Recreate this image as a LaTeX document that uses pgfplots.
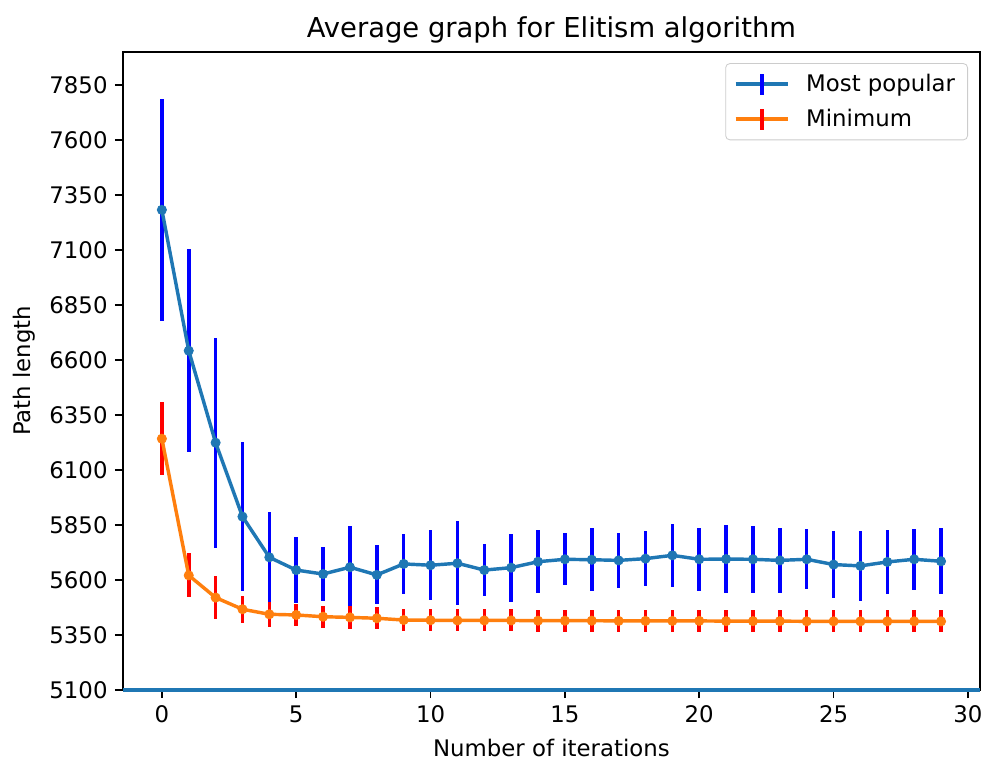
\documentclass[border=0pt]{standalone}
\usepackage{fontspec}
\setmainfont{DejaVu Sans}
\usepackage{pgfplots}
\pgfplotsset{compat=1.18}
\definecolor{C0}{HTML}{1F77B4}
\definecolor{C1}{HTML}{FF7F0E}
\definecolor{ebBlue}{RGB}{0,0,255}
\definecolor{ebRed}{RGB}{255,0,0}

% mean, error (half length)
\pgfplotstableread{
x y e
0 7282 505
1 6642 462
2 6224 477
3 5888 338
4 5703 205
5 5645 150
6 5627 122
7 5658 187
8 5623 134
9 5673 135
10 5667 158
11 5676 190
12 5645 117
13 5656 155
14 5683 144
15 5694 119
16 5692 143
17 5689 125
18 5697 125
19 5712 142
20 5694 144
21 5695 154
22 5694 151
23 5689 149
24 5694 137
25 5670 154
26 5664 158
27 5682 147
28 5694 138
29 5685 149
}\popular
\pgfplotstableread{
x y e
0 6242 167
1 5621 100
2 5520 98
3 5467 62
4 5444 56
5 5441 52
6 5433 50
7 5430 51
8 5426 50
9 5418 50
10 5417 50
11 5416 50
12 5416 50
13 5416 50
14 5415 50
15 5415 50
16 5415 50
17 5414 50
18 5414 50
19 5414 50
20 5414 50
21 5413 50
22 5413 50
23 5413 50
24 5412 50
25 5412 50
26 5412 50
27 5412 50
28 5412 50
29 5412 50
}\minimum

\begin{document}
\begin{tikzpicture}
\begin{axis}[
    scale only axis,
    width=411.4bp, height=306.4bp,
    xmin=-1.45, xmax=30.45,
    ymin=5100, ymax=8001,
    xtick={0,5,...,30},
    ytick={5100,5350,...,7850},
    tick pos=left,
    tick align=outside,
    major tick length=3.85bp,
    every tick/.style={black,line width=0.88bp},
    axis line style={line width=0.88bp},
    /pgf/number format/1000 sep={},
    /pgf/number format/assume math mode=true,
    ticklabel style={font=\fontsize{11}{13}\selectfont},
    xlabel={Number of iterations},
    ylabel={Path length},
    label style={font=\fontsize{11}{13}\selectfont},
    xlabel style={yshift=-1bp},
    ylabel style={yshift=0bp},
    title={Average graph for Elitism algorithm},
    title style={font=\fontsize{13.2}{15}\selectfont,yshift=-5.5bp},
    legend style={at={(0.986,0.982)},anchor=north east,
                  draw=black!20,rounded corners=2bp,
                  font=\fontsize{11}{13}\selectfont,
                  row sep=3bp,inner xsep=4bp,inner ysep=3bp,
                  /tikz/every odd column/.append style={column sep=6bp}},
    legend cell align=left,
    clip=false,
]

% error bars first, lines on top
\addplot[draw=none,forget plot,
    error bars/.cd, y dir=both, y explicit,
    error mark=none,
    error bar style={ebBlue,line width=1.7bp}]
    table[x=x,y=y,y error=e] {\popular};
\addplot[draw=none,forget plot,
    error bars/.cd, y dir=both, y explicit,
    error mark=none,
    error bar style={ebRed,line width=1.7bp}]
    table[x=x,y=y,y error=e] {\minimum};

\addplot[C0,line width=1.65bp,mark=*,mark size=2.2bp,
    mark options={fill=C0,draw=C0,line width=0.4bp},
    legend image code/.code={
      \draw[C0,line width=1.65bp] (0bp,0bp) -- (25bp,0bp);
      \draw[ebBlue,line width=1.7bp] (12.5bp,-5bp) -- (12.5bp,5bp);}]
    table[x=x,y=y] {\popular};
\addlegendentry{Most popular}

\addplot[C1,line width=1.65bp,mark=*,mark size=2.2bp,
    mark options={fill=C1,draw=C1,line width=0.4bp},
    legend image code/.code={
      \draw[C1,line width=1.65bp] (0bp,0bp) -- (25bp,0bp);
      \draw[ebRed,line width=1.7bp] (12.5bp,-5bp) -- (12.5bp,5bp);}]
    table[x=x,y=y] {\minimum};
\addlegendentry{Minimum}

% horizontal line at the bottom
\addplot[C0,line width=1.65bp,forget plot] coordinates {(-1.45,5100) (30.45,5100)};
\end{axis}
\pgfresetboundingbox
\useasboundingbox ([xshift=-59bp,yshift=-36bp]current axis.south west)
    rectangle ([xshift=2.4bp,yshift=24.8bp]current axis.north east);
\end{tikzpicture}
\end{document}
